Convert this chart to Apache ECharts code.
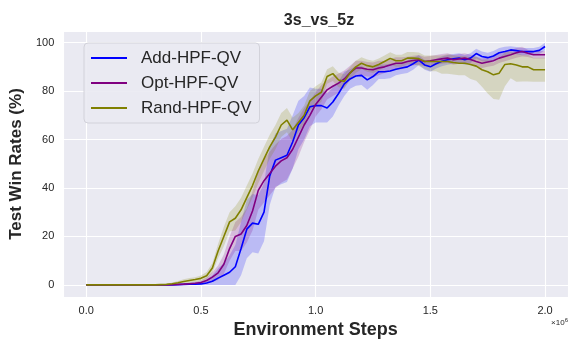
<!DOCTYPE html>
<html>
<head>
<meta charset="utf-8">
<script src="https://cdn.jsdelivr.net/npm/echarts@6/dist/echarts.min.js"></script>
<style>
html,body{margin:0;padding:0;background:#ffffff;}
#chart{width:581px;height:349px;}
</style>
</head>
<body>
<div id="chart"></div>
<script>
// Environment steps (x 10^6)
const steps = [
  0, 0.1, 0.2, 0.3, 0.35, 0.375, 0.4, 0.425, 0.45, 0.475,
  0.5, 0.525, 0.55, 0.575, 0.6, 0.625, 0.65, 0.675, 0.7, 0.725,
  0.75, 0.775, 0.8, 0.825, 0.85, 0.875, 0.9, 0.925, 0.95, 0.975,
  1.0, 1.025, 1.05, 1.075, 1.1, 1.125, 1.15, 1.175, 1.2, 1.225,
  1.25, 1.275, 1.3, 1.325, 1.35, 1.375, 1.4, 1.425, 1.45, 1.475,
  1.5, 1.525, 1.55, 1.575, 1.6, 1.625, 1.65, 1.675, 1.7, 1.725,
  1.75, 1.775, 1.8, 1.825, 1.85, 1.875, 1.9, 1.925, 1.95, 1.975,
  2.0
];
const seriesNames = ['Add-HPF-QV', 'Opt-HPF-QV', 'Rand-HPF-QV'];

// Add-HPF-QV mean and spread
const addMean = [
  0, 0, 0, 0, 0, 0, 0.1, 0.2, 0.3, 0.3,
  0.4, 0.8, 1.5, 2.8, 4.0, 5.2, 7.5, 15, 23, 25.5,
  25, 30, 45, 51.5, 52.5, 53.5, 59, 66, 69, 73.5,
  74, 74, 73, 75.5, 79, 83, 85, 86.2, 86.5, 84.6,
  86, 88, 88, 88.3, 89, 89.5, 90, 91.3, 92.8, 90.8,
  90, 91.3, 92.3, 92.9, 93.3, 93.6, 92.9, 93.6, 95.5, 94.3,
  93.8, 94.5, 95.8, 96.3, 97, 96.7, 96.3, 96.3, 96.3, 96.8,
  98.4
];
const addSpread = [
  0, 0, 0, 0, 0, 0, 0.2, 0.4, 0.6, 0.8,
  1, 1.5, 2.5, 4, 5, 7, 9, 11, 12, 12,
  12, 12, 12, 11, 11, 11, 11, 10, 9, 8,
  7, 7, 6, 6, 5, 5, 4, 4, 4, 4,
  3.5, 3, 3, 3, 2.5, 2.5, 2.5, 2.5, 2, 2,
  2, 2, 2, 2, 2, 2, 2, 2, 2, 2,
  2, 2, 2, 2, 1.5, 1.5, 1.5, 1.5, 1.5, 1.5,
  1.5
];

// Opt-HPF-QV mean and spread
const optMean = [
  0, 0, 0, 0, 0, 0.1, 0.2, 0.3, 0.5, 0.7,
  1.0, 1.8, 3.2, 5.0, 8.5, 15, 20, 21, 24.5, 30.5,
  39, 43, 46, 49, 51.2, 52.5, 56, 61, 66, 70,
  74.5, 77.5, 80.5, 82, 83.3, 85, 87.5, 89.5, 89.5, 89,
  88.8, 89.5, 90, 90.8, 91.5, 91.5, 92.2, 92.6, 92.9, 92.2,
  92.5, 92.9, 93.3, 93.6, 92.9, 93.3, 93.6, 93, 92.2, 91.5,
  92, 92.5, 93.6, 94.3, 95, 95.8, 96.3, 95.6, 95, 95,
  95
];
const optSpread = [
  0, 0, 0, 0, 0, 0, 0.2, 0.3, 0.4, 0.6,
  0.8, 1.2, 2, 3, 4, 5, 6, 7, 7, 8,
  8, 9, 9, 9, 9, 9, 8, 8, 7, 6,
  5, 5, 4, 4, 4, 3.5, 3, 3, 3, 3,
  3, 3, 2.5, 2.5, 2.5, 2.5, 2, 2, 2, 2,
  2, 2, 2, 2, 2, 2, 2, 2, 2, 2,
  2, 2, 2, 2, 2, 2, 2, 1.5, 1.5, 1.5,
  1.5
];

// Rand-HPF-QV mean and (asymmetric) spread
const randMean = [
  0, 0, 0, 0, 0.2, 0.5, 0.9, 1.4, 1.8, 2.2,
  2.7, 3.8, 7, 14, 20, 26, 27.5, 31, 36, 41,
  47, 52, 57, 61, 66, 68, 64, 67, 70, 76,
  78, 79.5, 86, 87.2, 84.6, 84, 87.4, 90, 91.5, 90.5,
  90, 91, 92.2, 93.5, 92.5, 92.5, 93.6, 93.6, 93.4, 92.2,
  92.2, 92.2, 92.2, 92.2, 91.8, 91.5, 91.5, 91, 90.3, 88.8,
  88, 86.7, 87.4, 91, 91.3, 90.8, 90, 90, 88.8, 88.8,
  88.8
];
const randSpreadUp = [
  0, 0, 0, 0, 0.3, 0.5, 0.7, 0.9, 1, 1,
  1.2, 1.5, 2, 3, 4, 4, 5, 5, 5, 5,
  5, 5, 5, 5, 5, 5, 5, 4, 4, 4,
  4, 4, 3, 3, 3, 3, 2.5, 2.5, 2.5, 2.5,
  2.5, 2.5, 2.5, 2.5, 2.5, 2.5, 2.5, 2.5, 2.5, 2.5,
  2.5, 2.5, 2.5, 3, 3, 3, 3, 3, 4, 4,
  5, 5, 6, 5, 5, 5, 5, 5, 5, 5,
  5
];
const randSpreadDown = [
  0, 0, 0, 0, 0.3, 0.5, 0.7, 0.9, 1, 1,
  1.2, 1.5, 2, 3, 4, 4, 5, 5, 5, 5,
  5, 5, 5, 5, 5, 5, 5, 4, 4, 4,
  4, 4, 3, 3, 3, 3, 2.5, 2.5, 2.5, 2.5,
  2.5, 2.5, 2.5, 2.5, 2.5, 2.5, 2.5, 2.5, 3, 3,
  4, 4, 5, 5, 5, 5, 5, 6, 6, 7,
  9, 10, 11, 9, 6, 7, 6, 6, 5, 5,
  5
];

const FONT = "'Liberation Sans', Arial, sans-serif";
const TXT = '#262626';
const colors = ['#0000ff', '#800080', '#808000'];

function band(mean, up, down, color) {
  return {
    type: 'custom',
    silent: true,
    z: 1,
    clip: true,
    data: [[steps[0], mean[0]]],
    encode: { x: 0, y: 1 },
    renderItem: function (params, api) {
      const pts = [];
      for (let i = 0; i < steps.length; i++) {
        pts.push(api.coord([steps[i], mean[i] + up[i]]));
      }
      for (let i = steps.length - 1; i >= 0; i--) {
        pts.push(api.coord([steps[i], Math.max(0, mean[i] - down[i])]));
      }
      return { type: 'polygon', shape: { points: pts }, style: { fill: color, opacity: 0.2 } };
    }
  };
}
function line(name, mean, color) {
  return {
    name: name,
    type: 'line',
    z: 3,
    symbol: 'none',
    showSymbol: false,
    data: steps.map((s, i) => [s, mean[i]]),
    lineStyle: { color: color, width: 1.6 },
    itemStyle: { color: color }
  };
}

const chart = echarts.init(document.getElementById('chart'), null, { renderer: 'canvas' });
chart.setOption({
  animation: false,
  backgroundColor: '#ffffff',
  title: {
    text: '3s_vs_5z',
    left: 314,
    top: 8,
    textAlign: 'center',
    textStyle: { fontFamily: FONT, fontSize: 16, fontWeight: 'bold', color: TXT }
  },
  grid: {
    left: 59, right: 13, top: 31, bottom: 52,
    show: true, backgroundColor: '#eaeaf2', borderWidth: 0
  },
  legend: {
    data: seriesNames,
    orient: 'vertical',
    left: 84, top: 43,
    padding: [6, 8, 6, 7],
    icon: 'rect',
    itemWidth: 36, itemHeight: 2, itemGap: 7,
    backgroundColor: 'rgba(234,234,242,0.9)',
    borderColor: '#d2d2da', borderWidth: 1, borderRadius: 4,
    textStyle: { fontFamily: FONT, fontSize: 17, color: TXT, lineHeight: 18, padding: [0, 0, 0, 9] }
  },
  xAxis: {
    type: 'value',
    min: -0.1, max: 2.1,
    splitNumber: 5,
    name: 'Environment Steps',
    nameLocation: 'middle',
    nameGap: 20,
    nameTextStyle: { fontFamily: FONT, fontSize: 18, fontWeight: 'bold', color: TXT },
    axisLine: { show: false },
    axisTick: { show: false },
    axisLabel: {
      showMinLabel: false, showMaxLabel: false,
      fontFamily: FONT, fontSize: 11, color: TXT, margin: 8,
      formatter: v => v.toFixed(1)
    },
    splitLine: { show: true, lineStyle: { color: '#ffffff', width: 1.1 } }
  },
  yAxis: {
    type: 'value',
    min: -5, max: 104.8,
    splitNumber: 5,
    name: 'Test Win Rates (%)',
    nameLocation: 'middle',
    nameGap: 28,
    nameTextStyle: { fontFamily: FONT, fontSize: 17, fontWeight: 'bold', color: TXT },
    axisLine: { show: false },
    axisTick: { show: false },
    axisLabel: {
      showMinLabel: false, showMaxLabel: false,
      fontFamily: FONT, fontSize: 11, color: TXT, margin: 9
    },
    splitLine: { show: true, lineStyle: { color: '#ffffff', width: 1.1 } }
  },
  graphic: [{
    type: 'text',
    right: 13,
    top: 317,
    style: {
      text: '×10{s|6}',
      fontFamily: FONT, fontSize: 8, fill: TXT,
      rich: { s: { fontSize: 6, verticalAlign: 'top', padding: [0, 0, 6, 0], fontFamily: FONT, fill: TXT } }
    }
  }],
  series: [
    band(addMean, addSpread, addSpread, colors[0]),
    band(optMean, optSpread, optSpread, colors[1]),
    band(randMean, randSpreadUp, randSpreadDown, colors[2]),
    line(seriesNames[0], addMean, colors[0]),
    line(seriesNames[1], optMean, colors[1]),
    line(seriesNames[2], randMean, colors[2])
  ]
});
</script>
</body>
</html>
